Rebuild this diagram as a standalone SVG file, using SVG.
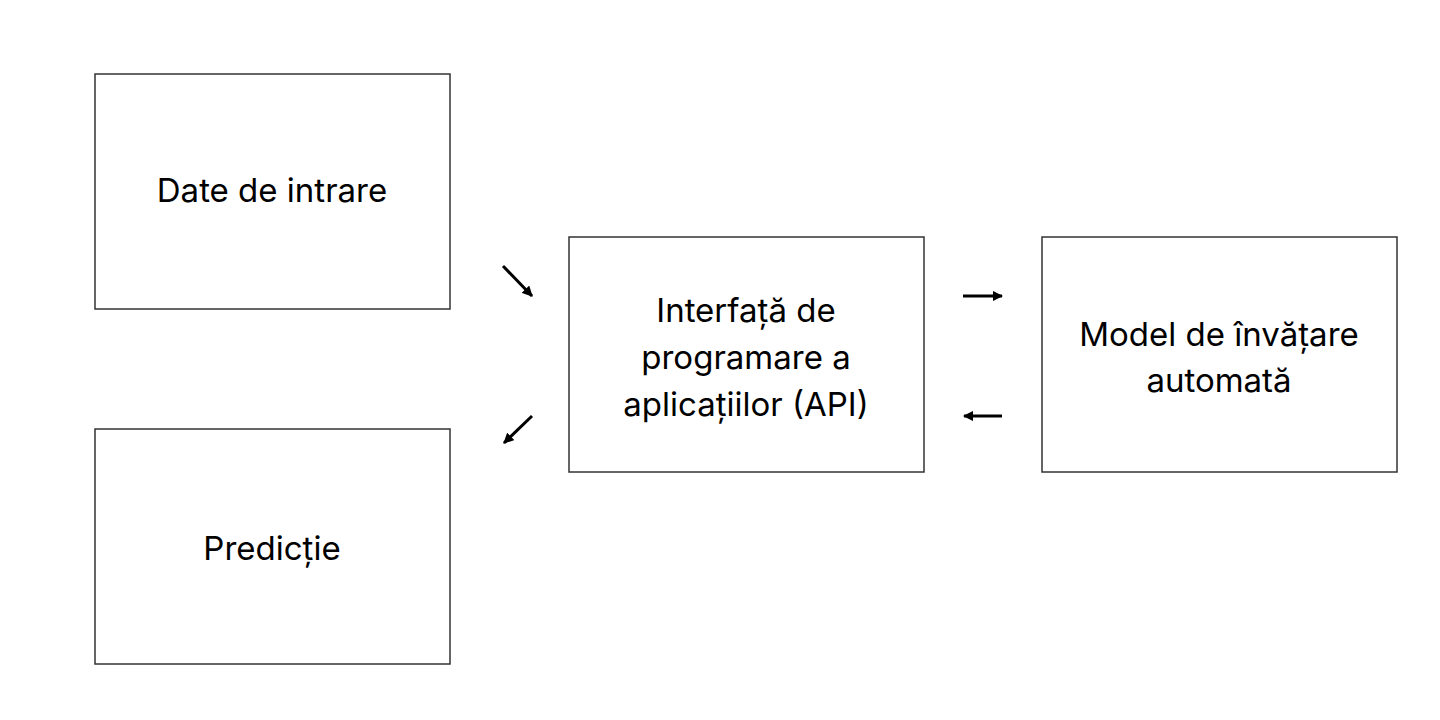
<svg xmlns="http://www.w3.org/2000/svg" width="1440" height="720" viewBox="0 0 1440 720">
<style>
.box{fill:#fff;stroke:#333;stroke-width:1.5}
.t{font-family:Inter,"Open Sans",sans-serif;font-size:33px;fill:#000;text-anchor:middle}
.c{stroke:#000;stroke-width:3;fill:none;marker-end:url(#ah)}
</style>
<defs><marker id="ah" viewBox="0 0 10 10" refX="9" refY="5" markerWidth="3.5" markerHeight="3.5" orient="auto"><path d="M0,0L10,5L0,10z" fill="#000"/></marker></defs>
<rect width="1440" height="720" fill="#fff"/>
<g id="n1"><rect class="box" x="95" y="74" width="355" height="235"/><text class="t" x="272" y="202">Date de intrare</text></g>
<g id="n2"><rect class="box" x="95" y="429" width="355" height="235"/><text class="t" x="272" y="560">Predicție</text></g>
<g id="n3"><rect class="box" x="569" y="237" width="355" height="235"/><text class="t" x="746" y="322">Interfață de</text><text class="t" x="746" y="369">programare a</text><text class="t" x="746" y="416">aplicațiilor (API)</text></g>
<g id="n4"><rect class="box" x="1042" y="237" width="355" height="235"/><text class="t" x="1219" y="346">Model de învățare</text><text class="t" x="1219" y="392">automată</text></g>
<g id="connectors">
<line class="c" x1="503" y1="266" x2="532" y2="296"/>
<line class="c" x1="532" y1="416" x2="504" y2="443"/>
<line class="c" x1="963" y1="296" x2="1002" y2="296"/>
<line class="c" x1="1002" y1="416" x2="964" y2="416"/>
</g>
</svg>
